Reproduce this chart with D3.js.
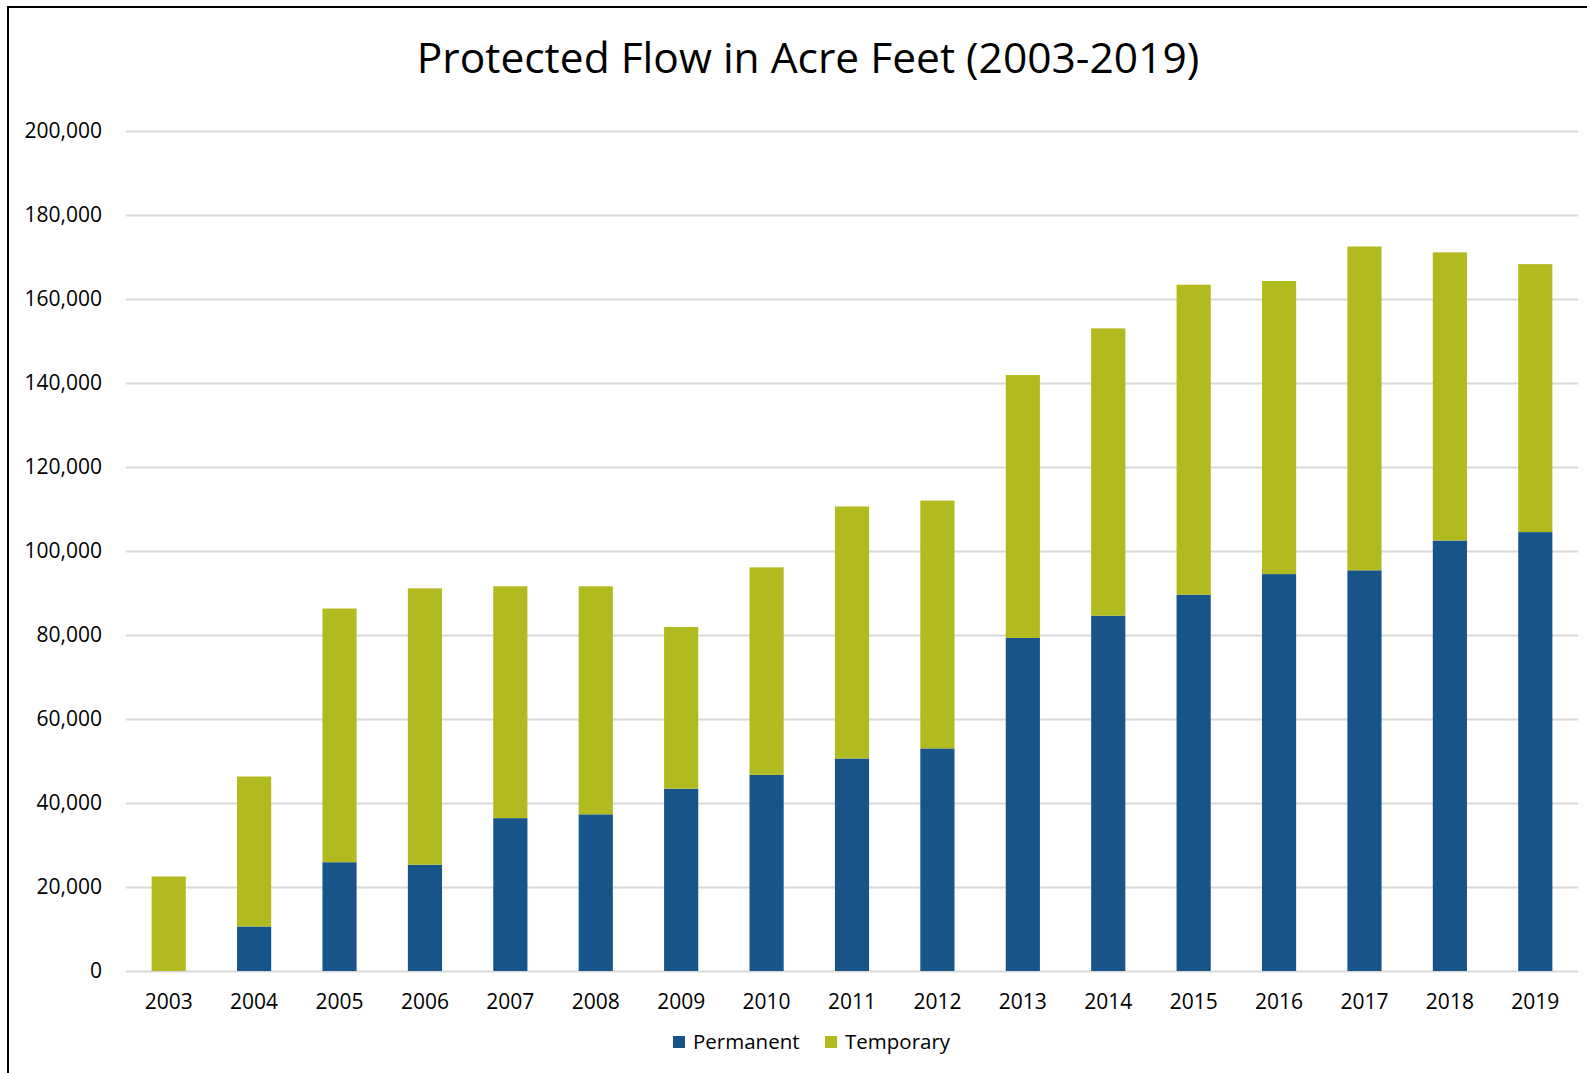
<!DOCTYPE html>
<html>
<head>
<meta charset="utf-8">
<script src="https://cdn.jsdelivr.net/npm/d3@7"></script>
<style>
  body { margin: 0; background: #fff; }
  svg { display: block; font-family: "Open Sans", sans-serif; }
</style>
</head>
<body>
<div id="chart"></div>
<script>
// Chart data
const years = ["2003","2004","2005","2006","2007","2008","2009","2010","2011",
               "2012","2013","2014","2015","2016","2017","2018","2019"];
const permanent = [0, 10600, 25900, 25300, 36400, 37300, 43400, 46700, 50600,
                   53000, 79300, 84600, 89600, 94500, 95400, 102500, 104500];
const totals = [22500, 46300, 86300, 91100, 91600, 91600, 81900, 96100, 110600,
                112000, 141900, 153000, 163400, 164300, 172500, 171100, 168300];
const temporary = totals.map((t, i) => t - permanent[i]);
const yTicks = [0, 20000, 40000, 60000, 80000, 100000, 120000, 140000, 160000, 180000, 200000];
const seriesNames = ["Permanent", "Temporary"];
const colors = { Permanent: "#16548a", Temporary: "#b1ba1e" };

const W = 1587, H = 1073;
const margin = { top: 131, right: 9, bottom: 102, left: 126 };
const width = W - margin.left - margin.right;
const height = H - margin.top - margin.bottom;

const svg = d3.select("#chart").append("svg")
    .attr("width", W).attr("height", H);

// outer chart border (runs off the right and bottom edges)
svg.append("rect")
    .attr("x", 8).attr("y", 7)
    .attr("width", 1700).attr("height", 1200)
    .attr("fill", "none").attr("stroke", "#000").attr("stroke-width", 2);

svg.append("text")
    .attr("x", 808).attr("y", 73)
    .attr("text-anchor", "middle")
    .style("font-size", "42.5px")
    .text("Protected Flow in Acre Feet (2003-2019)");

const g = svg.append("g").attr("transform", `translate(${margin.left},${margin.top})`);

const x = d3.scaleBand().domain(years).range([0, width]).paddingInner(0.6).paddingOuter(0.3);
const y = d3.scaleLinear().domain([0, 200000]).range([height, 0]);

// gridlines + y labels
const yAxis = g.append("g")
    .call(d3.axisLeft(y).tickValues(yTicks).tickSize(-width).tickPadding(24)
        .tickFormat(d3.format(",")));
yAxis.select(".domain").remove();
yAxis.selectAll("line").attr("stroke", "#d9d9d9").attr("stroke-width", 2);
yAxis.selectAll("text").style("font-size", "21px").attr("fill", "#000")
    .style("font-family", "'Open Sans', sans-serif");

// stacked bars
const rows = years.map((yr, i) => ({ year: yr, Permanent: permanent[i], Temporary: temporary[i] }));
const stack = d3.stack().keys(seriesNames)(rows);

g.selectAll(".series")
    .data(stack)
    .enter().append("g")
    .attr("fill", d => colors[d.key])
    .selectAll("rect")
    .data(d => d)
    .enter().append("rect")
    .attr("x", d => x(d.data.year))
    .attr("y", d => y(d[1]))
    .attr("height", d => y(d[0]) - y(d[1]))
    .attr("width", x.bandwidth());

// x labels
const xAxis = g.append("g")
    .attr("transform", `translate(0,${height})`)
    .call(d3.axisBottom(x).tickSize(0).tickPadding(23));
xAxis.select(".domain").remove();
xAxis.selectAll("text").style("font-size", "21px").attr("fill", "#000")
    .style("font-family", "'Open Sans', sans-serif");

// legend
const legend = svg.append("g");
const legendItems = [
    { name: "Permanent", x: 673 },
    { name: "Temporary", x: 825 }
];
legendItems.forEach(it => {
    legend.append("rect")
        .attr("x", it.x).attr("y", 1036)
        .attr("width", 12).attr("height", 12)
        .attr("fill", colors[it.name]);
    legend.append("text")
        .attr("x", it.x + 20).attr("y", 1049)
        .style("font-size", "20.5px")
        .text(it.name);
});
</script>
</body>
</html>
